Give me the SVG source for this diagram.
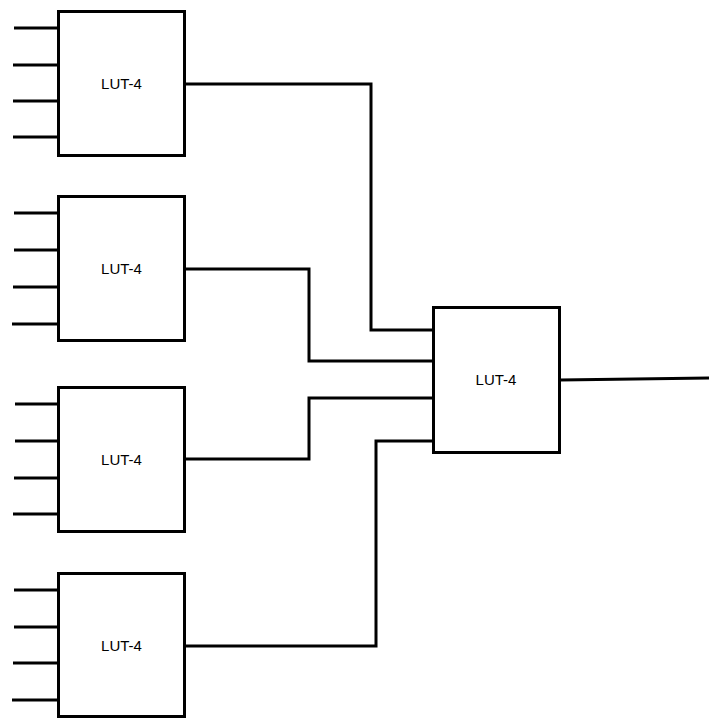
<svg xmlns="http://www.w3.org/2000/svg" width="709" height="720" viewBox="0 0 709 720">
  <style>
    .box { fill: #ffffff; stroke: #000000; stroke-width: 3; }
    .wire { fill: none; stroke: #000000; stroke-width: 3; stroke-linejoin: miter; stroke-linecap: butt; }
    .label { font-family: "Liberation Sans", Arial, sans-serif; font-size: 15px; fill: #000000; text-anchor: middle; dominant-baseline: central; }
  </style>
  <rect width="709" height="720" fill="#ffffff"/>

  <!-- input pins and wires between blocks -->
  <g id="connectors">
    <!-- inputs of LUT 1 -->
    <path class="wire" d="M14 28H58M13 65H58M13 101H58M13 137H58"/>
    <!-- inputs of LUT 2 -->
    <path class="wire" d="M14 213H58M14 250H58M13 287H58M12 324H58"/>
    <!-- inputs of LUT 3 -->
    <path class="wire" d="M15 404H58M15 441H58M14 478H58M13 514H58"/>
    <!-- inputs of LUT 4 -->
    <path class="wire" d="M14 590H58M14 627H58M13 663H58M12 700H58"/>
    <!-- first-level outputs into the second-level LUT -->
    <path class="wire" d="M185 84H371V330H433"/>
    <path class="wire" d="M185 269H309V361H433"/>
    <path class="wire" d="M185 459H309V398H433"/>
    <path class="wire" d="M185 646H376V441H433"/>
    <!-- final output -->
    <path class="wire" d="M560 380L709 378"/>
  </g>

  <g id="lut1">
    <rect class="box" x="58.5" y="11.5" width="126" height="144"/>
    <text class="label" x="121.5" y="83">LUT-4</text>
  </g>
  <g id="lut2">
    <rect class="box" x="58.5" y="196.5" width="126" height="144"/>
    <text class="label" x="121.5" y="268">LUT-4</text>
  </g>
  <g id="lut3">
    <rect class="box" x="58.5" y="387.5" width="126" height="144"/>
    <text class="label" x="121.5" y="459">LUT-4</text>
  </g>
  <g id="lut4">
    <rect class="box" x="58.5" y="573.5" width="126" height="143"/>
    <text class="label" x="121.5" y="645">LUT-4</text>
  </g>
  <g id="lut5">
    <rect class="box" x="433.5" y="307.5" width="126" height="145"/>
    <text class="label" x="496" y="379">LUT-4</text>
  </g>
</svg>
